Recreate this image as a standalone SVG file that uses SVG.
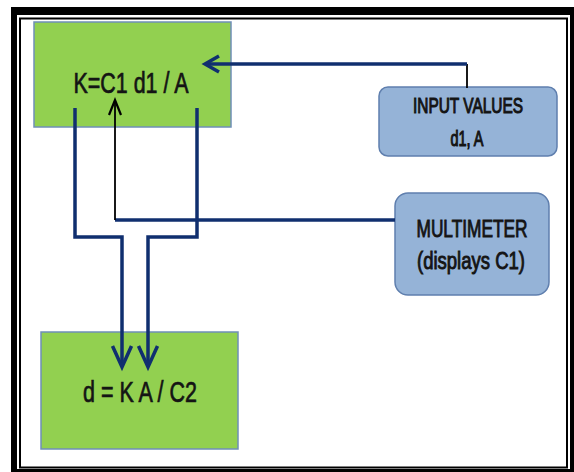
<svg xmlns="http://www.w3.org/2000/svg" width="574" height="472" viewBox="0 0 574 472">
  <defs>
    <style>
      .green { fill: #92d050; stroke: #6f8fb8; stroke-width: 1.5; }
      .blue { fill: #95b3d7; stroke: #5f7fae; stroke-width: 1.5; }
      .lbl { font-family: "Liberation Sans", "DejaVu Sans", sans-serif; fill: #141414; stroke: #141414; stroke-width: 0.7; text-anchor: middle; }
      .big { font-size: 29px; }
      .mid { font-size: 22px; stroke-width: 1.1; }
      .mid2 { font-size: 23px; stroke-width: 0.9; }
      .navy { fill: none; stroke: #102f6f; stroke-width: 3.5; }
      .thin { fill: none; stroke: #000; stroke-width: 1.8; }
    </style>
    <marker id="headDown" markerUnits="userSpaceOnUse" orient="auto" overflow="visible" markerWidth="1" markerHeight="1">
      <path d="M-21,-9.5 L0,0 L-21,9.5" fill="none" stroke="#102f6f" stroke-width="3.5"/>
    </marker>
    <marker id="headIn" markerUnits="userSpaceOnUse" orient="auto" overflow="visible" markerWidth="1" markerHeight="1">
      <path d="M-14,-8 L0,0 L-14,8" fill="none" stroke="#102f6f" stroke-width="3.5"/>
    </marker>
    <marker id="headBlack" markerUnits="userSpaceOnUse" orient="auto" overflow="visible" markerWidth="1" markerHeight="1">
      <path d="M-15,-6 L0,0 L-15,6" fill="none" stroke="#000" stroke-width="2.2"/>
    </marker>
  </defs>

  <rect width="574" height="472" fill="#fff"/>

  <g id="frame">
    <path d="M11,7 H574 V472 H11 Z M17,15 V469 H570 V15 Z" fill="#000" fill-rule="evenodd"/>
    <rect x="20" y="18.5" width="547" height="449" fill="none" stroke="#000" stroke-width="2"/>
  </g>

  <g id="node-k">
    <rect class="green" x="34" y="22" width="197" height="105"/>
    <text class="lbl big" x="131" y="93" textLength="115" lengthAdjust="spacingAndGlyphs">K=C1 d1 / A</text>
  </g>

  <g id="node-d">
    <rect class="green" x="41" y="332" width="197" height="117"/>
    <text class="lbl big" x="140" y="402" textLength="114" lengthAdjust="spacingAndGlyphs">d = K A / C2</text>
  </g>

  <g id="node-input">
    <rect class="blue" x="379" y="87" width="178" height="69" rx="9"/>
    <text class="lbl mid" x="468" y="113" textLength="110" lengthAdjust="spacingAndGlyphs">INPUT VALUES</text>
    <text class="lbl mid" x="467" y="146" textLength="33" lengthAdjust="spacingAndGlyphs">d1, A</text>
  </g>

  <g id="node-multimeter">
    <rect class="blue" x="395" y="193" width="154" height="102" rx="13"/>
    <text class="lbl mid2" x="472" y="237" textLength="111" lengthAdjust="spacingAndGlyphs">MULTIMETER</text>
    <text class="lbl mid2" x="471" y="269" textLength="108" lengthAdjust="spacingAndGlyphs">(displays C1)</text>
  </g>

  <g id="connectors">
    <path class="navy" d="M75,108 V237 H122 V367" marker-end="url(#headDown)"/>
    <path class="navy" d="M197,108 V237 H148 V367" marker-end="url(#headDown)"/>
    <path class="thin" d="M467,88 V64"/>
    <path class="navy" d="M467,64 H205" stroke-width="3" marker-end="url(#headIn)"/>
    <path class="navy" d="M395,220 H115" stroke-width="2.8"/>
    <path class="thin" d="M115,220 V100" marker-end="url(#headBlack)"/>
  </g>
</svg>
